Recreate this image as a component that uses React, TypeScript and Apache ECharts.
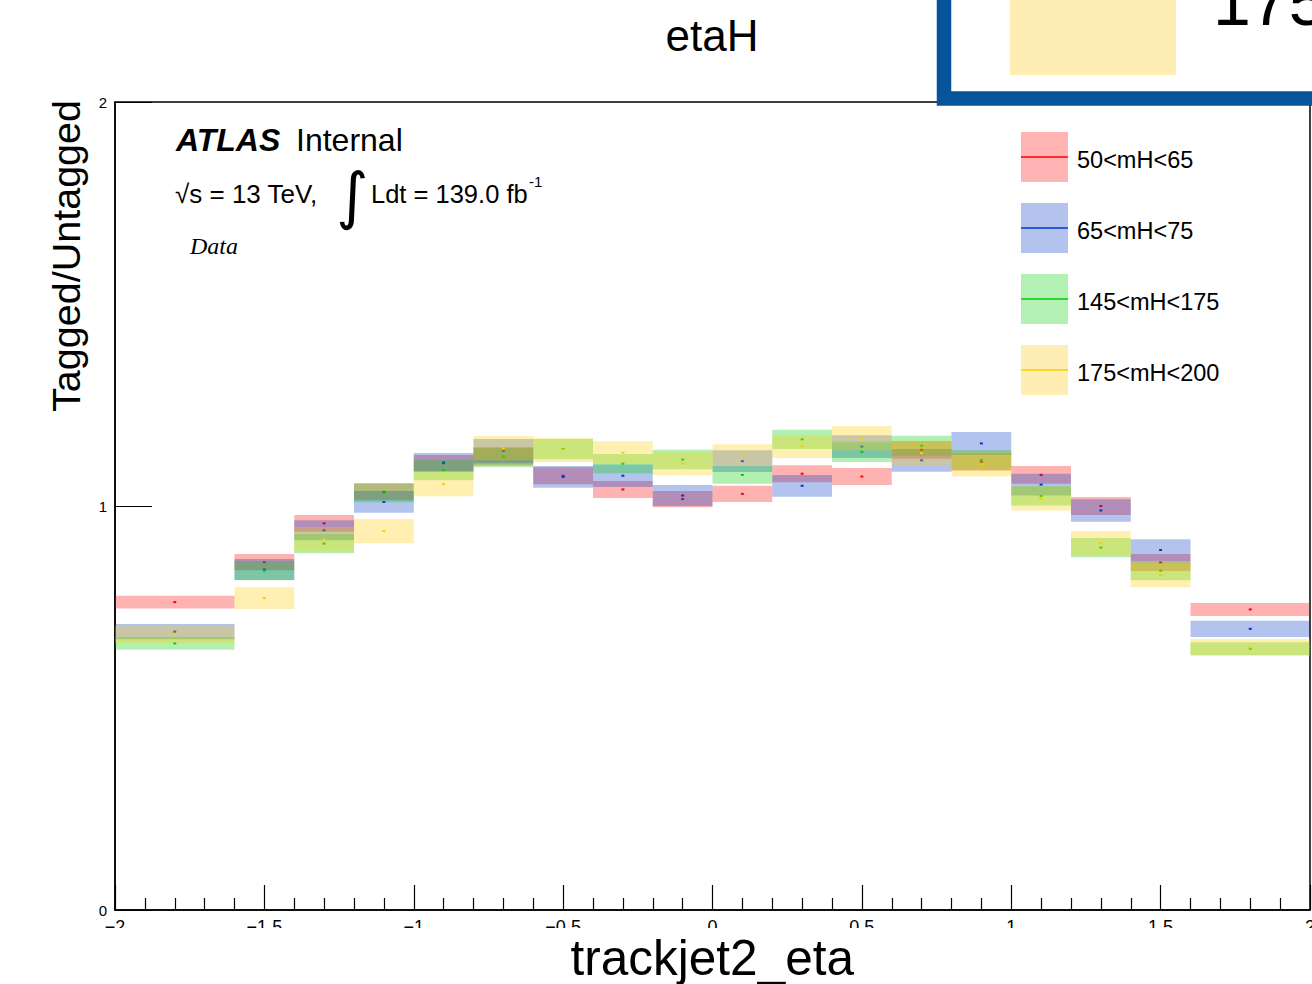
import React, { useEffect, useRef } from "react";
import * as echarts from "echarts";

const binEdges = [-2, -1.6, -1.4, -1.2, -1.0, -0.8, -0.6, -0.4, -0.2, 0, 0.2, 0.4, 0.6, 0.8, 1.0, 1.2, 1.4, 1.6, 2];

const seriesNames = ["50<mH<65", "65<mH<75", "145<mH<175", "175<mH<200"];

const redValues = [0.762, 0.861, 0.957, 1.035, 1.106, 1.122, 1.075, 1.041, 1.017, 1.030, 1.080, 1.073, 1.139, 1.109, 1.077, 1.000, 0.860, 0.744];
const redErrors = [0.016, 0.020, 0.021, 0.021, 0.020, 0.022, 0.021, 0.021, 0.020, 0.020, 0.021, 0.021, 0.022, 0.022, 0.022, 0.022, 0.021, 0.016];

const blueValues = [0.689, 0.843, 0.940, 1.010, 1.108, 1.136, 1.072, 1.075, 1.026, 1.111, 1.050, 1.147, 1.113, 1.155, 1.053, 0.989, 0.891, 0.696];
const blueErrors = [0.019, 0.026, 0.025, 0.027, 0.023, 0.030, 0.027, 0.028, 0.026, 0.027, 0.027, 0.028, 0.028, 0.028, 0.027, 0.028, 0.027, 0.020];

const greenValues = [0.660, 0.840, 0.907, 1.033, 1.089, 1.121, 1.141, 1.105, 1.115, 1.077, 1.165, 1.134, 1.149, 1.114, 1.025, 0.897, 0.840, 0.647];
const greenErrors = [0.016, 0.024, 0.024, 0.024, 0.025, 0.025, 0.025, 0.024, 0.024, 0.022, 0.024, 0.025, 0.025, 0.024, 0.024, 0.024, 0.024, 0.016];

const yellowValues = [0.682, 0.772, 0.918, 0.938, 1.054, 1.143, 1.139, 1.132, 1.105, 1.126, 1.147, 1.168, 1.131, 1.103, 1.019, 0.908, 0.829, 0.650];
const yellowErrors = [0.021, 0.027, 0.030, 0.030, 0.030, 0.030, 0.030, 0.028, 0.028, 0.027, 0.028, 0.030, 0.030, 0.030, 0.030, 0.030, 0.030, 0.021];

const lineColors = ["#ff0000", "#0037c6", "#00cd00", "#ffcc00"];
const fillColors = ["rgba(255,0,0,0.3)", "rgba(0,55,198,0.3)", "rgba(0,205,0,0.3)", "rgba(255,204,0,0.3)"];
const legendFills = ["#ffb3b3", "#b3c3ee", "#b3f0b3", "#ffeeb3"];

const FONT = "'Liberation Sans', Arial, Helvetica, sans-serif";

function buildData(values: number[], errs: number[]) {
  return values.map((v, i) => [binEdges[i], binEdges[i + 1], v, errs[i]]);
}

function makeSeries(idx: number, values: number[], errs: number[]) {
  const fill = fillColors[idx];
  const line = lineColors[idx];
  return {
    type: "custom",
    name: seriesNames[idx],
    data: buildData(values, errs),
    encode: { x: [0, 1], y: 2 },
    silent: true,
    renderItem: (params: any, api: any) => {
      const x0 = api.value(0);
      const x1 = api.value(1);
      const v = api.value(2);
      const e = api.value(3);
      const p0 = api.coord([x0, v + e]);
      const p1 = api.coord([x1, v - e]);
      const pc = api.coord([(x0 + x1) / 2, v]);
      return {
        type: "group",
        children: [
          {
            type: "rect",
            shape: { x: p0[0], y: p0[1], width: p1[0] - p0[0], height: p1[1] - p0[1] },
            style: { fill },
          },
          {
            type: "rect",
            shape: { x: pc[0] - 1.5, y: pc[1] - 1, width: 3, height: 2 },
            style: { fill: line },
          },
        ],
      };
    },
  };
}

export default function App() {
  const ref = useRef<HTMLDivElement>(null);
  useEffect(() => {
    if (!ref.current) return;
    const chart = echarts.init(ref.current, null, { renderer: "svg" });

    const legendTops = [132, 203, 274, 345];
    const legendGraphics: any[] = [];
    legendTops.forEach((top, i) => {
      legendGraphics.push({
        type: "rect",
        shape: { x: 1021, y: top, width: 47, height: 50 },
        style: { fill: legendFills[i] },
        z: 20,
      });
      legendGraphics.push({
        type: "line",
        shape: { x1: 1021, y1: top + 25, x2: 1068, y2: top + 25 },
        style: { stroke: lineColors[i], lineWidth: 1.5 },
        z: 21,
      });
      legendGraphics.push({
        type: "text",
        x: 1077,
        y: top + 28,
        style: {
          text: seriesNames[i],
          font: `23.5px ${FONT}`,
          fill: "#000",
          align: "left",
          verticalAlign: "middle",
        },
        z: 21,
      });
    });

    const option: any = {
      animation: false,
      backgroundColor: "#fff",
      grid: {
        left: 115,
        right: 2,
        top: 102,
        bottom: 74,
        outerBoundsMode: "none",
        containLabel: false,
        show: true,
        borderColor: "#000",
        borderWidth: 1.5,
        backgroundColor: "transparent",
      },
      xAxis: {
        type: "value",
        min: -2,
        max: 2,
        interval: 0.5,
        axisLine: { show: true, onZero: false, lineStyle: { color: "#000", width: 1.5 } },
        axisTick: { show: true, inside: true, length: 25, lineStyle: { color: "#000", width: 1.2 } },
        minorTick: { show: true, splitNumber: 5, length: 12, lineStyle: { color: "#000", width: 1.2 } },
        splitLine: { show: false },
        axisLabel: {
          show: true,
          margin: 8,
          fontSize: 18,
          lineHeight: 18,
          fontFamily: FONT,
          color: "#000",
          showMinLabel: true,
          showMaxLabel: true,
          formatter: (v: number) => String(v).replace("-", "\u2212"),
        },
      },
      yAxis: {
        type: "value",
        min: 0,
        max: 2,
        interval: 1,
        axisLine: { show: true, onZero: false, lineStyle: { color: "#000", width: 1.5 } },
        axisTick: { show: true, inside: true, length: 37, lineStyle: { color: "#000", width: 1.2 } },
        splitLine: { show: false },
        axisLabel: { margin: 8, fontSize: 15, fontFamily: FONT, color: "#000" },
      },
      series: [
        makeSeries(0, redValues, redErrors),
        makeSeries(1, blueValues, blueErrors),
        makeSeries(2, greenValues, greenErrors),
        makeSeries(3, yellowValues, yellowErrors),
      ],
      graphic: {
        elements: [
          {
            type: "rect",
            shape: { x: 0, y: 928, width: 1312, height: 56 },
            style: { fill: "#fff" },
            z: 50,
          },
          {
            type: "text",
            x: 854,
            y: 957,
            style: { text: "trackjet2_eta", font: `49.5px ${FONT}`, lineHeight: 38, fill: "#000", align: "right", verticalAlign: "middle" },
            z: 60,
          },
          {
            type: "text",
            x: 712,
            y: 35,
            style: { text: "etaH", font: `44px ${FONT}`, fill: "#000", align: "center", verticalAlign: "middle" },
            z: 10,
          },
          {
            type: "text",
            x: 66,
            y: 100,
            rotation: Math.PI / 2,
            style: { text: "Tagged/Untagged", font: `39.5px ${FONT}`, fill: "#000", align: "right", verticalAlign: "middle" },
            z: 10,
          },
          {
            type: "text",
            x: 176,
            y: 140,
            style: { text: "ATLAS", font: `italic bold 32px ${FONT}`, fill: "#000", align: "left", verticalAlign: "middle" },
            z: 10,
          },
          {
            type: "text",
            x: 296,
            y: 140,
            style: { text: "Internal", font: `32px ${FONT}`, fill: "#000", align: "left", verticalAlign: "middle" },
            z: 10,
          },
          {
            type: "text",
            x: 175,
            y: 194,
            style: { text: "\u221As = 13 TeV,", font: `26px ${FONT}`, fill: "#000", align: "left", verticalAlign: "middle" },
            z: 10,
          },
          {
            type: "text",
            x: 336,
            y: 195,
            style: { text: "\u222B", font: `62px 'DejaVu Sans', ${FONT}`, fill: "#000", align: "left", verticalAlign: "middle" },
            z: 10,
          },
          {
            type: "text",
            x: 371,
            y: 194,
            style: { text: "Ldt = 139.0 fb", font: `25.5px ${FONT}`, fill: "#000", align: "left", verticalAlign: "middle" },
            z: 10,
          },
          {
            type: "text",
            x: 529,
            y: 181,
            style: { text: "-1", font: `15px ${FONT}`, fill: "#000", align: "left", verticalAlign: "middle" },
            z: 10,
          },
          {
            type: "text",
            x: 190,
            y: 246,
            style: { text: "Data", font: `italic 24px 'Liberation Serif', 'Times New Roman', serif`, fill: "#000", align: "left", verticalAlign: "middle" },
            z: 10,
          },
          ...legendGraphics,
          {
            type: "rect",
            shape: { x: 944, y: -60, width: 500, height: 158.5 },
            style: { fill: "#fff", stroke: "#07549b", lineWidth: 14.5 },
            z: 70,
          },
          {
            type: "rect",
            shape: { x: 1010, y: -10, width: 166, height: 85 },
            style: { fill: "#ffeeb3" },
            z: 71,
          },
          {
            type: "text",
            x: 1213,
            y: 1,
            style: { text: "175<mH<200", font: `68px ${FONT}`, fill: "#000", align: "left", verticalAlign: "middle" },
            z: 71,
          },
        ],
      },
    };

    chart.setOption(option);
    return () => chart.dispose();
  }, []);

  return (
    <div
      ref={ref}
      style={{ position: "absolute", left: 0, top: 0, width: 1312, height: 984, background: "#fff" }}
    />
  );
}
